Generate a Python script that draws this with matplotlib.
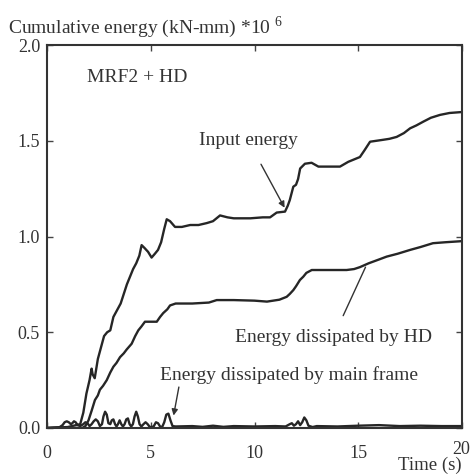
import matplotlib
matplotlib.use('Agg')
import matplotlib.pyplot as plt

plt.rcParams['font.family'] = ['Liberation Serif', 'DejaVu Serif']
plt.rcParams['mathtext.fontset'] = 'custom'
plt.rcParams['mathtext.rm'] = 'Liberation Serif'

# values (time in s, energy in kN-mm * 10^6)
t_in = [0, 1.0, 1.6, 1.75, 1.9, 2.05, 2.15, 2.2, 2.3, 2.45, 2.6, 2.75, 2.9, 3.05, 3.2,
        3.35, 3.55, 3.7, 3.85, 4.0, 4.15, 4.3, 4.45, 4.56, 4.7, 4.87, 5.04, 5.2, 5.35, 5.5,
        5.65, 5.77, 5.93, 6.17, 6.5, 6.9, 7.3, 7.7, 8.0, 8.34, 8.7, 9.0, 9.8, 10.4, 10.75,
        11.07, 11.47, 11.6, 11.7, 11.87, 12.0, 12.1, 12.2, 12.43, 12.75, 13.08, 13.5, 14.12,
        14.52, 15.08, 15.3, 15.57, 16.2, 16.5, 16.85, 17.2, 17.5, 17.8, 18.14, 18.5, 18.94,
        19.4, 20]
e_in = [0, 0.005, 0.02, 0.08, 0.18, 0.25, 0.31, 0.28, 0.26, 0.36, 0.42, 0.48, 0.50, 0.51, 0.58,
        0.61, 0.65, 0.70, 0.75, 0.79, 0.83, 0.86, 0.90, 0.955, 0.94, 0.92, 0.89, 0.91, 0.93, 0.97,
        1.04, 1.09, 1.08, 1.05, 1.05, 1.06, 1.06, 1.07, 1.08, 1.11, 1.10, 1.095, 1.095, 1.10, 1.10,
        1.125, 1.13, 1.16, 1.19, 1.26, 1.27, 1.30, 1.355, 1.38, 1.385, 1.365, 1.365, 1.365,
        1.39, 1.415, 1.45, 1.495, 1.505, 1.51, 1.52, 1.54, 1.565, 1.58, 1.60, 1.62, 1.635,
        1.645, 1.65]

t_hd = [0, 1.7, 1.85, 2.0, 2.15, 2.31, 2.45, 2.55, 2.7, 2.88, 3.05, 3.2, 3.35, 3.52, 3.7,
        3.84, 4.0, 4.08, 4.25, 4.4, 4.55, 4.72, 5.0, 5.29, 5.45, 5.6, 5.8, 5.93, 6.2, 7.0,
        7.8, 8.18, 9.0, 10.0, 10.6, 11.2, 11.55, 11.7, 11.87, 12.0, 12.19, 12.35, 12.5, 12.76,
        13.5, 14.44, 14.8, 15.08, 15.5, 16.0, 16.37, 16.9, 17.5, 18.0, 18.6, 19.2, 19.9, 20]
e_hd = [0, 0, 0.01, 0.04, 0.09, 0.146, 0.17, 0.2, 0.22, 0.25, 0.29, 0.32, 0.34, 0.37, 0.39,
        0.41, 0.43, 0.44, 0.48, 0.51, 0.53, 0.555, 0.555, 0.555, 0.58, 0.6, 0.62, 0.64, 0.65, 0.65,
        0.655, 0.668, 0.668, 0.665, 0.66, 0.67, 0.685, 0.70, 0.72, 0.74, 0.773, 0.79, 0.81, 0.825,
        0.825, 0.825, 0.83, 0.84, 0.86, 0.88, 0.895, 0.91, 0.93, 0.945, 0.965, 0.97, 0.975, 0.976]

t_mf = [0, 0.6, 0.75, 0.85, 0.95, 1.05, 1.15, 1.22, 1.3, 1.38, 1.48, 1.6, 1.75, 1.85, 1.95,
        2.05, 2.15, 2.25, 2.35, 2.45, 2.55, 2.65, 2.72, 2.8, 2.88, 2.96, 3.05, 3.12, 3.2, 3.28,
        3.35, 3.42, 3.5, 3.58, 3.66, 3.74, 3.82, 3.9, 3.98, 4.06, 4.14, 4.22, 4.3, 4.38, 4.46,
        4.55, 4.65, 4.75, 4.85, 4.95, 5.05, 5.15, 5.25, 5.35, 5.45, 5.55, 5.65, 5.75, 5.85, 5.95,
        6.05, 6.2, 7.0, 7.5, 8.0, 8.5, 9.0, 10.0, 11.0, 11.5, 11.7, 11.8, 11.9, 12.0, 12.1,
        12.2, 12.3, 12.4, 12.5, 12.6, 12.8, 13.0, 14.0, 15.0, 16.0, 17.0, 18.0, 19.0, 20]
e_mf = [0, 0.004, 0.015, 0.03, 0.035, 0.03, 0.02, 0.025, 0.035, 0.03, 0.015, 0.01, 0.02, 0.03, 0.025,
        0.01, 0.02, 0.035, 0.045, 0.035, 0.01, 0.02, 0.06, 0.085, 0.07, 0.025, 0.02, 0.04, 0.045, 0.02,
        0.008, 0.02, 0.04, 0.02, 0.008, 0.02, 0.045, 0.05, 0.02, 0.008, 0.02, 0.06, 0.085, 0.06, 0.02,
        0.008, 0.02, 0.03, 0.02, 0.006, 0.004, 0.01, 0.03, 0.025, 0.008, 0.005, 0.03, 0.07, 0.075, 0.04,
        0.01, 0.008, 0.01, 0.006, 0.012, 0.006, 0.01, 0.008, 0.01, 0.008, 0.02, 0.025, 0.012, 0.02, 0.035,
        0.015, 0.03, 0.055, 0.04, 0.012, 0.005, 0.01, 0.008, 0.012, 0.015, 0.01, 0.012, 0.01, 0.01]

xticks = [0, 5, 10, 15, 20]
yticks = [0.0, 0.5, 1.0, 1.5, 2.0]

fig = plt.figure(figsize=(4.73, 4.75), dpi=100)
ax = fig.add_axes([47/473, 47/475, 415/473, 383/475])

lc = '#262626'
ax.plot(t_mf, e_mf, color=lc, lw=1.7)
ax.plot(t_hd, e_hd, color=lc, lw=1.7)
ax.plot(t_in, e_in, color=lc, lw=1.7)

ax.set_xlim(0, 20)
ax.set_ylim(0, 2.0)
ax.set_xticks(xticks)
ax.set_yticks(yticks)
ax.set_xticklabels(['0', '5', '10', '15', ''])
ax.set_yticklabels(['%.1f' % v for v in yticks])
ax.tick_params(direction='in', length=4, width=1, colors='#444444', labelcolor='#333333',
               labelsize=13, top=True, right=True)
ax.tick_params(axis='x', pad=12)
ax.tick_params(axis='y', pad=5)
for s in ax.spines.values():
    s.set_linewidth(1.5)
    s.set_color('#333333')

tc = '#333333'
fig.text(8/473, 1 - 27/475, 'Cumulative energy (kN-mm) *10 $^{6}$', fontsize=14, color=tc, va='center')
fig.text(461/473, 1 - 449/475, '20', fontsize=13, color=tc, ha='center', va='center')
fig.text(462/473, 1 - 465/475, 'Time (s)', fontsize=13.5, color=tc, ha='right', va='center')
ax.text(1.95, 1.83, 'MRF2 + HD', fontsize=14, color=tc, va='center')

ax.annotate('Input energy', xy=(11.45, 1.15), xytext=(9.7, 1.5), fontsize=14, color=tc,
            ha='center', va='center',
            arrowprops=dict(arrowstyle='-|>', color=tc, lw=1.0, mutation_scale=9,
                            shrinkA=10, shrinkB=0))
ax.annotate('Energy dissipated by HD', xy=(15.35, 0.84), xytext=(13.8, 0.475), fontsize=14,
            color=tc, ha='center', va='center',
            arrowprops=dict(arrowstyle='-', color=tc, lw=1.0, shrinkA=8, shrinkB=0))
ax.annotate('Energy dissipated by main frame', xy=(6.1, 0.065), xytext=(11.65, 0.275), fontsize=14,
            color=tc, ha='center', va='center',
            arrowprops=dict(arrowstyle='-|>', color=tc, lw=1.0, mutation_scale=9,
                            relpos=(0.08, 0.3), shrinkA=0, shrinkB=0))

fig.savefig('out.png', dpi=100)
